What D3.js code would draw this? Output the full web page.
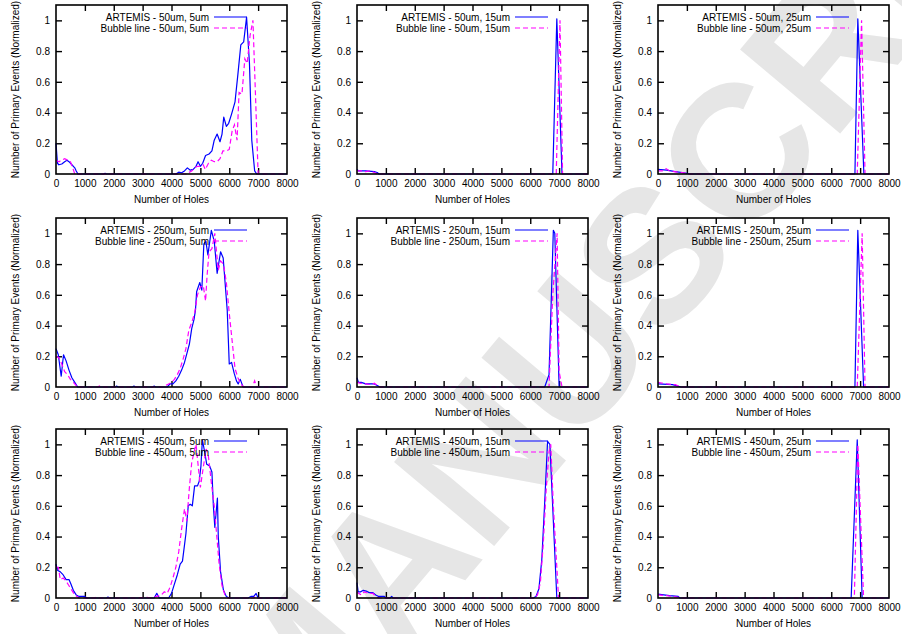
<!DOCTYPE html>
<html>
<head>
<meta charset="utf-8">
<script src="https://cdn.jsdelivr.net/npm/d3@7"></script>
<style>
  body { margin: 0; background: #fff; }
  svg { display: block; }
  text { font-family: "Liberation Sans", Arial, sans-serif; }
</style>
</head>
<body>
<svg width="902" height="634"></svg>
<script>
const svg = d3.select("svg");

// axis ticks shared by every panel
const xTicks = [0, 1000, 2000, 3000, 4000, 5000, 6000, 7000, 8000];
const yTicks = [0, 0.2, 0.4, 0.6, 0.8, 1];

// rows = hole diameter, columns = spacing
const holeSizes = ["50um", "250um", "450um"];
const spacings = ["5um", "15um", "25um"];

// ARTEMIS (blue) and Bubble line (magenta) curves, [holes, normalized events]
const a50_5 = [[0,0.20],[50,0.07],[100,0.06],[200,0.065],[300,0.08],[380,0.09],[450,0.08],[550,0.06],[650,0.04],[700,0.02],[760,0],[1650,0],[1700,0.005],[1750,0],[4150,0],[4250,0.012],[4350,0.008],[4450,0.02],[4550,0.04],[4650,0.025],[4750,0.03],[4850,0.05],[4920,0.08],[5000,0.05],[5080,0.07],[5180,0.12],[5300,0.13],[5400,0.15],[5480,0.22],[5580,0.26],[5680,0.21],[5750,0.26],[5810,0.37],[5900,0.31],[5980,0.33],[6080,0.39],[6200,0.47],[6300,0.65],[6400,0.84],[6500,0.86],[6600,1.02],[6700,0.72],[6780,0.22],[6880,0.02],[6950,0],[8000,0]];
const b50_5 = [[0,0.09],[100,0.08],[200,0.09],[300,0.1],[400,0.09],[500,0.08],[580,0.04],[650,0],[4500,0],[4600,0.01],[4700,0.02],[4800,0.04],[4900,0.05],[5000,0.05],[5100,0.06],[5170,0.03],[5280,0.07],[5380,0.09],[5480,0.08],[5580,0.08],[5680,0.1],[5780,0.15],[5900,0.15],[6000,0.16],[6100,0.28],[6180,0.32],[6270,0.22],[6340,0.53],[6440,0.52],[6540,0.75],[6620,0.72],[6720,0.9],[6820,1.0],[6920,0.45],[7000,0],[8000,0]];
const a50_15 = [[0,0.03],[50,0.02],[300,0.02],[600,0.015],[700,0.01],[760,0],[6780,0],[6920,1.01],[7100,0],[8000,0]];
const b50_15 = [[0,0.02],[150,0.02],[300,0.015],[450,0.02],[600,0.01],[700,0],[6900,0],[7030,1.0],[7120,0],[8000,0]];
const a50_25 = [[0,0.03],[300,0.025],[600,0.015],[1000,0.005],[1100,0],[6820,0],[6920,1.01],[7130,0],[8000,0]];
const b50_25 = [[0,0.02],[150,0.02],[280,0.035],[400,0.02],[700,0.012],[1000,0.005],[1100,0],[6900,0],[7050,1.0],[7170,0],[8000,0]];

const a250_5 = [[0,0.25],[80,0.21],[180,0.07],[260,0.21],[350,0.17],[450,0.11],[550,0.06],[650,0.03],[750,0],[2050,0],[2100,0.006],[2150,0],[2650,0],[2700,0.006],[2750,0],[3350,0],[3400,0.006],[3450,0],[3850,0],[3950,0.02],[4050,0.02],[4150,0.04],[4250,0.07],[4350,0.11],[4450,0.16],[4550,0.23],[4620,0.28],[4700,0.38],[4780,0.44],[4830,0.5],[4870,0.62],[4980,0.68],[5050,0.63],[5120,0.93],[5190,0.95],[5260,0.86],[5380,1.02],[5480,0.95],[5580,0.74],[5700,0.88],[5790,0.84],[5880,0.62],[5930,0.5],[6000,0.15],[6080,0.16],[6170,0.09],[6250,0.04],[6310,0.02],[6380,0.05],[6420,0.03],[6480,0],[8000,0]];
const b250_5 = [[0,0.2],[100,0.19],[200,0.15],[300,0.1],[400,0.08],[500,0.05],[600,0.03],[700,0.01],[800,0],[1450,0],[1500,0.006],[1550,0],[2350,0],[2400,0.006],[2450,0],[3700,0],[3800,0.01],[3900,0.02],[4000,0.03],[4100,0.05],[4200,0.08],[4300,0.12],[4400,0.18],[4500,0.25],[4600,0.37],[4700,0.42],[4800,0.48],[4900,0.6],[5000,0.65],[5100,0.66],[5180,0.56],[5230,0.72],[5300,0.88],[5400,0.9],[5500,1.0],[5560,0.88],[5620,0.76],[5700,0.82],[5800,0.8],[5900,0.68],[6000,0.48],[6100,0.3],[6200,0.12],[6300,0.06],[6400,0.02],[6500,0],[6800,0],[6880,0.04],[6950,0],[8000,0]];
const a250_15 = [[0,0.06],[50,0.03],[150,0.03],[300,0.02],[600,0.02],[700,0.01],[800,0],[6500,0],[6650,0.08],[6800,1.02],[6850,1.0],[7000,0],[8000,0]];
const b250_15 = [[0,0.03],[100,0.025],[300,0.02],[500,0.015],[600,0.025],[700,0.01],[800,0],[6650,0],[6780,0.6],[6930,1.0],[7000,0.1],[7100,0],[8000,0]];
const a250_25 = [[0,0.02],[500,0.015],[800,0],[6820,0],[6920,1.02],[7120,0],[8000,0]];
const b250_25 = [[0,0.03],[300,0.02],[600,0.015],[800,0],[6900,0],[7070,1.0],[7170,0],[8000,0]];

const a450_5 = [[0,0.22],[50,0.18],[150,0.17],[250,0.15],[350,0.12],[450,0.12],[520,0.09],[600,0.05],[700,0.02],[800,0.01],[1000,0.01],[1050,0],[1750,0],[1800,0.006],[1850,0],[3400,0],[3490,0.03],[3580,0],[3900,0],[4000,0.03],[4100,0.09],[4200,0.15],[4300,0.22],[4380,0.24],[4500,0.42],[4580,0.6],[4650,0.61],[4720,0.6],[4800,0.73],[4900,0.73],[4960,0.76],[5020,0.86],[5070,1.03],[5150,0.95],[5220,0.87],[5320,0.86],[5400,0.82],[5450,0.6],[5500,0.46],[5590,0.65],[5620,0.4],[5700,0.17],[5800,0.05],[5900,0.01],[6000,0],[6650,0],[6750,0.01],[6850,0.01],[6930,0.03],[7000,0],[8000,0]];
const b450_5 = [[0,0.2],[80,0.2],[150,0.12],[250,0.13],[350,0.11],[450,0.08],[550,0.05],[650,0.02],[800,0],[1350,0],[1400,0.006],[1450,0],[2850,0],[3150,0.005],[3300,0],[3650,0.02],[3750,0.04],[3850,0.03],[3950,0.07],[4050,0.13],[4150,0.2],[4250,0.3],[4350,0.45],[4450,0.58],[4530,0.5],[4620,0.72],[4700,0.88],[4780,0.95],[4850,1.0],[4930,0.85],[5000,0.72],[5100,0.85],[5200,0.97],[5280,0.92],[5380,0.75],[5480,0.6],[5560,0.42],[5650,0.22],[5750,0.08],[5850,0.02],[5950,0],[6850,0],[6900,0.01],[6950,0],[8000,0]];
const a450_15 = [[0,0.1],[40,0.04],[120,0.04],[220,0.05],[320,0.045],[420,0.035],[550,0.035],[650,0.02],[750,0.01],[950,0.01],[1000,0],[1150,0],[1200,0.01],[1250,0],[6100,0],[6200,0.01],[6300,0.06],[6400,0.25],[6500,0.62],[6600,1.02],[6680,1.0],[6920,0],[8000,0]];
const b450_15 = [[0,0.04],[60,0.03],[150,0.02],[250,0.04],[400,0.03],[550,0.03],[650,0.01],[750,0],[6150,0],[6250,0.02],[6350,0.1],[6450,0.35],[6550,0.7],[6650,0.95],[6710,1.0],[6800,0.6],[6980,0],[8000,0]];
const a450_25 = [[0,0.025],[200,0.02],[400,0.015],[700,0.01],[750,0],[6690,0],[6900,1.03],[7070,0],[8000,0]];
const b450_25 = [[0,0.02],[300,0.015],[500,0.01],[700,0.005],[750,0],[6800,0],[6920,1.0],[7120,0],[8000,0]];

const artemis = [[a50_5, a50_15, a50_25], [a250_5, a250_15, a250_25], [a450_5, a450_15, a450_25]];
const bubble = [[b50_5, b50_15, b50_25], [b250_5, b250_15, b250_25], [b450_5, b450_15, b450_25]];

// layout
const colLeft = [56, 357, 658];
const rowTop = [5, 218, 429];
const plotW = 231, plotH = 169;

// watermark behind everything
svg.append("text")
    .attr("transform", "translate(296,782) rotate(-50)")
    .attr("font-size", 190)
    .attr("font-weight", "bold")
    .attr("fill", "#e6e6e6")
    .text("MANUSCRIPT");

holeSizes.forEach((hole, r) => {
    spacings.forEach((sp, c) => {
        const g = svg.append("g")
            .attr("transform", `translate(${colLeft[c]},${rowTop[r]})`);

        const x = d3.scaleLinear().domain([0, 8000]).range([0, plotW]);
        const y = d3.scaleLinear().domain([0, 1.1]).range([plotH, 0]);

        // ticks on all four sides, pointing inward
        const bottom = g.append("g").attr("transform", `translate(0,${plotH})`)
            .call(d3.axisBottom(x).tickValues(xTicks).tickSize(-6).tickPadding(6).tickFormat(d3.format("d")));
        const top = g.append("g")
            .call(d3.axisTop(x).tickValues(xTicks).tickSize(-6).tickFormat(""));
        const left = g.append("g")
            .call(d3.axisLeft(y).tickValues(yTicks).tickSize(-6).tickPadding(6).tickFormat(d => String(d)));
        const right = g.append("g").attr("transform", `translate(${plotW},0)`)
            .call(d3.axisRight(y).tickValues(yTicks).tickSize(-6).tickFormat(""));

        [bottom, top, left, right].forEach(a => {
            a.select(".domain").remove();
            a.selectAll(".tick line").attr("stroke", "#000").attr("stroke-width", 1.4);
            a.selectAll("text").attr("font-size", 10).attr("fill", "#000")
                .attr("font-family", "'Liberation Sans', Arial, sans-serif");
        });
        // skip the end ticks that sit on the border corners
        [bottom, top].forEach(a => a.selectAll(".tick line")
            .filter(d => d === 0 || d === 8000).remove());
        [left, right].forEach(a => a.selectAll(".tick line")
            .filter(d => d === 0).remove());

        const line = d3.line().x(d => x(d[0])).y(d => y(d[1]));

        g.append("path")
            .datum(artemis[r][c])
            .attr("d", line)
            .attr("fill", "none")
            .attr("stroke", "#0000ff")
            .attr("stroke-width", 1.2)
            .attr("stroke-linejoin", "round");

        g.append("path")
            .datum(bubble[r][c])
            .attr("d", line)
            .attr("fill", "none")
            .attr("stroke", "#ff00ff")
            .attr("stroke-width", 1.2)
            .attr("stroke-dasharray", "5,3");

        // border
        g.append("rect")
            .attr("width", plotW)
            .attr("height", plotH)
            .attr("fill", "none")
            .attr("stroke", "#000")
            .attr("stroke-width", 1.6);

        // key
        const keyEnd = plotW - 40, keyStart = keyEnd - 33;
        const keyRows = [
            { label: `ARTEMIS - ${hole}, ${sp}`, color: "#0000ff", dash: null },
            { label: `Bubble line - ${hole}, ${sp}`, color: "#ff00ff", dash: "5,3" }
        ];
        keyRows.forEach((k, i) => {
            const ky = 12 + i * 11;
            g.append("text")
                .attr("x", keyStart - 5)
                .attr("y", ky)
                .attr("dy", "0.35em")
                .attr("text-anchor", "end")
                .attr("font-size", 10)
                .text(k.label);
            g.append("line")
                .attr("x1", keyStart).attr("x2", keyEnd)
                .attr("y1", ky).attr("y2", ky)
                .attr("stroke", k.color)
                .attr("stroke-width", 1.2)
                .attr("stroke-dasharray", k.dash);
        });

        // axis titles
        g.append("text")
            .attr("x", plotW / 2)
            .attr("y", plotH + 29)
            .attr("text-anchor", "middle")
            .attr("font-size", 10)
            .text("Number of Holes");

        g.append("text")
            .attr("transform", `translate(-37.5,${plotH / 2}) rotate(-90)`)
            .attr("text-anchor", "middle")
            .attr("font-size", 10)
            .text("Number of Primary Events (Normalized)");
    });
});
</script>
</body>
</html>
